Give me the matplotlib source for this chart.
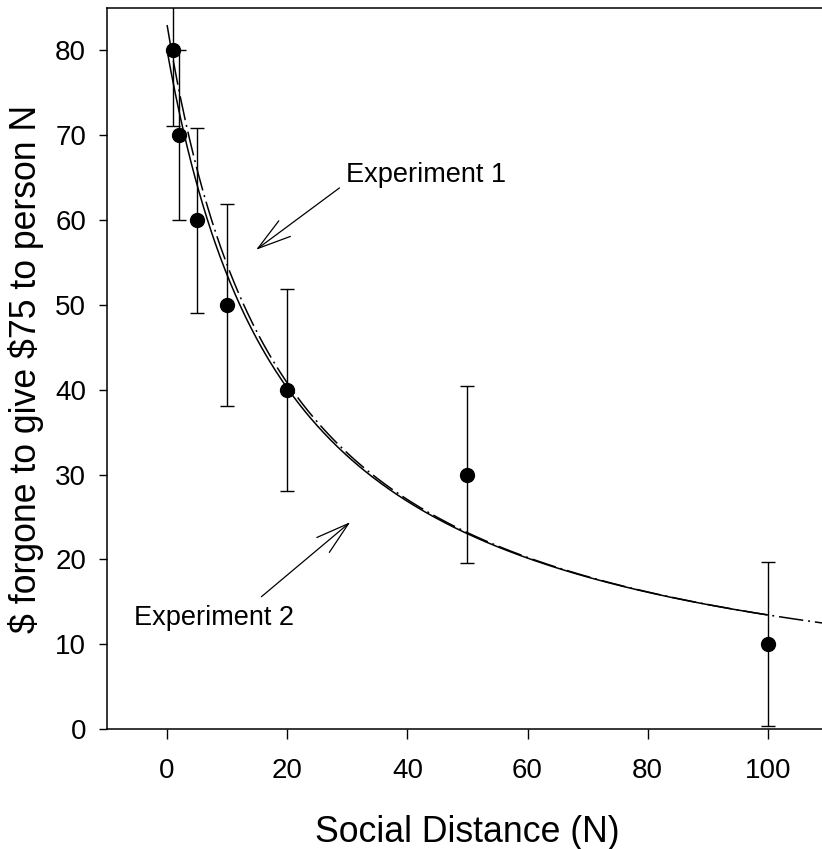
import numpy as np
import matplotlib.pyplot as plt
from matplotlib.patches import ArrowStyle

plt.rcParams['font.family'] = ['Liberation Sans', 'DejaVu Sans']

# Group means with standard errors at each social distance
distance = [1, 2, 5, 10, 20, 50, 100]
forgone = [80, 70, 60, 50, 40, 30, 10]
std_err = [8.85, 10.0, 10.9, 11.9, 11.9, 10.4, 9.7]

# Hyperbolic fits v = V / (1 + kN)
exp1_V, exp1_k = 83.0, 0.0517
exp2_V, exp2_k = 80.0, 0.0495


def hyperbola(n, V, k):
    return V / (1.0 + k * n)


fig = plt.figure(figsize=(8.22, 8.49), dpi=100)
ax = fig.add_axes([0.1302, 0.1413, 0.877, 0.8492])

# Experiment 1 fit runs across the whole axis, Experiment 2 stops at N=100
n1 = np.linspace(0, 112, 600)
n2 = np.linspace(0, 100, 600)
ax.plot(n1, hyperbola(n1, exp1_V, exp1_k), color='black', lw=1.1,
        dashes=(16, 3.2, 1.3, 3.2), zorder=2)
ax.plot(n2, hyperbola(n2, exp2_V, exp2_k), color='black', lw=1.1,
        solid_capstyle='butt', zorder=2)

ax.errorbar(distance, forgone, yerr=std_err, fmt='o', color='black',
            markersize=10, ecolor='black', elinewidth=1.0, capsize=4.8,
            capthick=1.0, zorder=3)

# Curve labels with open-headed arrows
head = ArrowStyle('->', head_length=1.2, head_width=0.35)
ax.annotate('', xy=(14.8, 56.5), xytext=(28.7, 63.8),
            arrowprops=dict(arrowstyle=head, color='black', lw=0.9,
                            shrinkA=0, shrinkB=0, mutation_scale=20))
ax.text(29.8, 64.5, 'Experiment 1', fontsize=19.5, ha='left', va='baseline')
ax.annotate('', xy=(30.5, 24.4), xytext=(15.7, 15.6),
            arrowprops=dict(arrowstyle=head, color='black', lw=0.9,
                            shrinkA=0, shrinkB=0, mutation_scale=20))
ax.text(-5.5, 12.3, 'Experiment 2', fontsize=19.5, ha='left', va='baseline')

ax.set_xlim(-10, 110)
ax.set_ylim(0, 85)
ax.set_xticks(range(0, 101, 20))
ax.set_yticks(range(0, 81, 10))
ax.tick_params(axis='x', direction='out', length=7, width=1.0, pad=14,
               labelsize=20)
ax.tick_params(axis='y', direction='out', length=6, width=1.0, pad=9,
               labelsize=20)
for side in ['left', 'bottom', 'top', 'right']:
    ax.spines[side].set_linewidth(1.1)

ax.set_xlabel('Social Distance (N)', fontsize=25.7, labelpad=22)
ax.set_ylabel(r'\$ forgone to give \$75 to person N', fontsize=25.7,
              labelpad=8)

fig.savefig('out.png', dpi=100)
